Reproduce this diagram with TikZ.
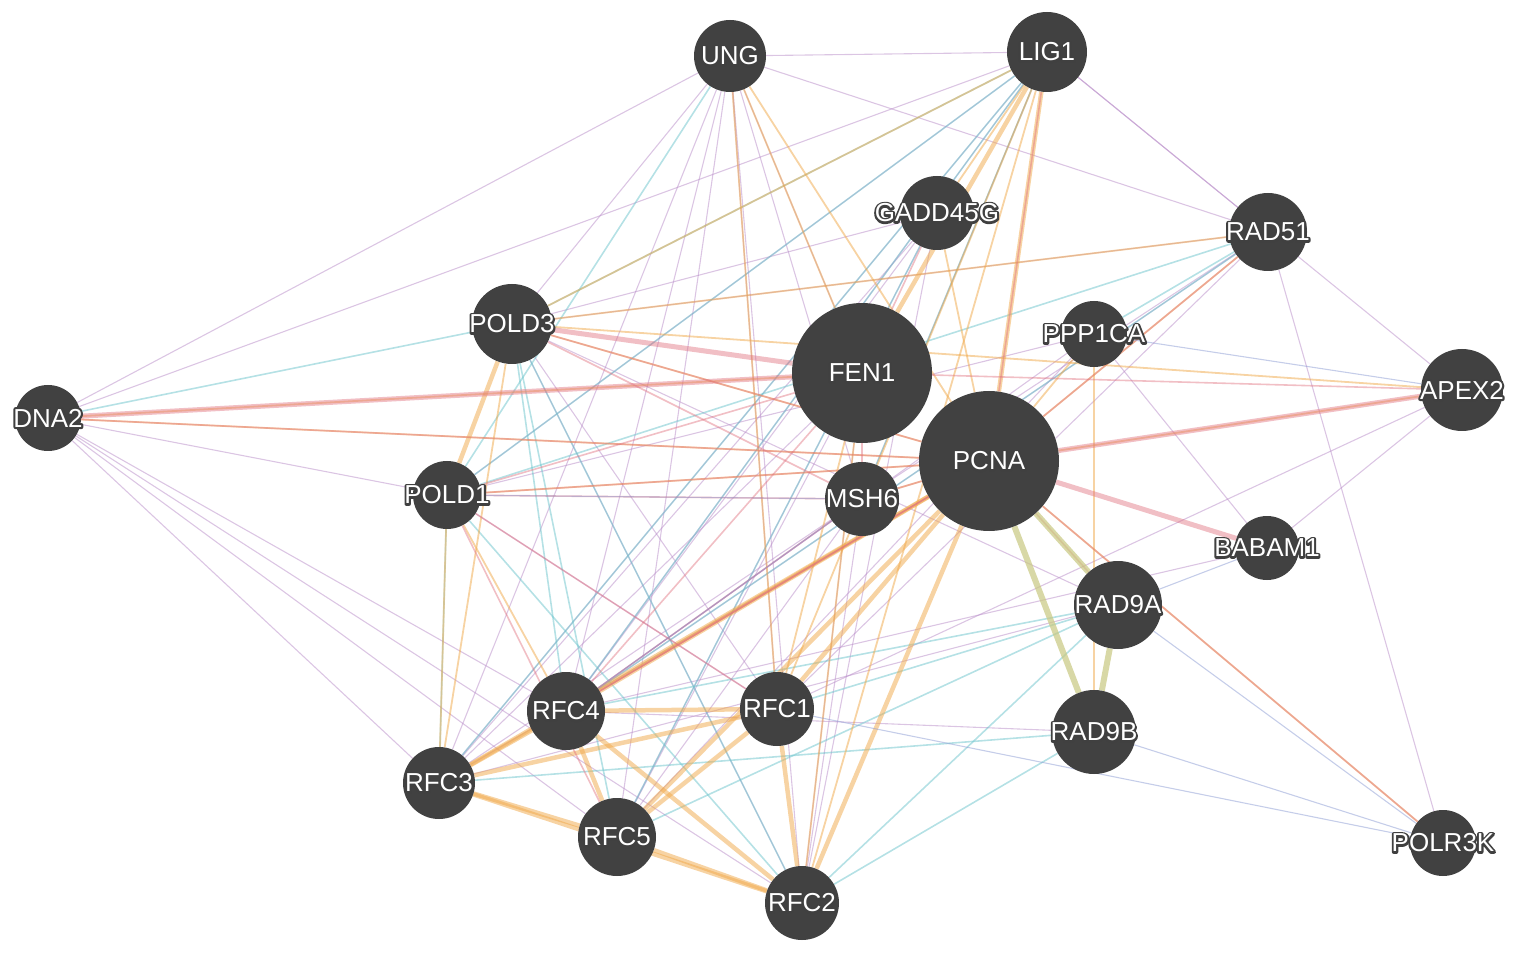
\documentclass[tikz,border=0pt]{standalone}
\usepackage{fontspec}
\setmainfont{Liberation Sans}
\usetikzlibrary{backgrounds}
\definecolor{nd}{HTML}{414141}
\definecolor{cpu}{HTML}{B88CC8}
\definecolor{ccy}{HTML}{6CC4CC}
\definecolor{cor}{HTML}{F0A848}
\definecolor{cpk}{HTML}{E0707E}
\definecolor{col}{HTML}{C8C880}
\definecolor{cbl}{HTML}{8C9CD4}
\newcommand\halotext[1]{\makebox[0pt][l]{\special{pdf:code q 1 Tr 4 w 1 j 0.25 0.25 0.25 RG}#1\special{pdf:code Q}}#1}
\tikzset{
 gene/.style 2 args={circle,fill=nd,inner sep=0pt,minimum size=#1,
   label={[font=\fontsize{26}{26}\selectfont,text=white,inner sep=0pt]center:\halotext{#2}}},
 pu/.style={draw=cpu,opacity=0.5,line width=1.1pt},
 cy/.style={draw=ccy,opacity=0.5,line width=1.6pt},
 orth/.style={draw=cor,opacity=0.5,line width=1.8pt},
 orthk/.style={draw=cor,opacity=0.5,line width=4.5pt},
 pk/.style={draw=cpk,opacity=0.45,line width=1.6pt},
 pkk/.style={draw=cpk,opacity=0.45,line width=5pt},
 olk/.style={draw=col,opacity=0.7,line width=6pt},
 bl/.style={draw=cbl,opacity=0.5,line width=1.1pt}
}
\begin{document}
\begin{tikzpicture}[x=1pt,y=-1pt]
\useasboundingbox (0,0) rectangle (1535,965);
\node[gene={72pt}{UNG}] (UNG) at (730,56) {};
\node[gene={80pt}{LIG1}] (LIG) at (1047,52) {};
\node[gene={74pt}{GADD45G}] (GAD) at (937,213) {};
\node[gene={78pt}{RAD51}] (R51) at (1268,232) {};
\node[gene={80pt}{POLD3}] (P3) at (512,324) {};
\node[gene={140pt}{FEN1}] (FEN) at (862,373) {};
\node[gene={66pt}{PPP1CA}] (PP) at (1094,334) {};
\node[gene={82pt}{APEX2}] (APX) at (1462,390) {};
\node[gene={66pt}{DNA2}] (DNA) at (48,418) {};
\node[gene={140pt}{PCNA}] (PC) at (989,461) {};
\node[gene={68pt}{POLD1}] (P1) at (447,495) {};
\node[gene={74pt}{MSH6}] (MSH) at (862,499) {};
\node[gene={64pt}{BABAM1}] (BAB) at (1267,548) {};
\node[gene={88pt}{RAD9A}] (R9A) at (1118,605) {};
\node[gene={78pt}{RFC4}] (C4) at (566,711) {};
\node[gene={74pt}{RFC1}] (C1) at (777,709) {};
\node[gene={84pt}{RAD9B}] (R9B) at (1094,732) {};
\node[gene={72pt}{RFC3}] (C3) at (439,783) {};
\node[gene={78pt}{RFC5}] (C5) at (617,837) {};
\node[gene={74pt}{RFC2}] (C2) at (802,903) {};
\node[gene={66pt}{POLR3K}] (PK) at (1443,843) {};
\begin{pgfonlayer}{background}
\foreach \a/\b in {DNA/UNG,DNA/LIG,DNA/C3,DNA/C4,DNA/C2,DNA/P1,DNA/C5,UNG/LIG,UNG/R51,LIG/R51,LIG/APX,UNG/C4,UNG/C1,UNG/MSH,UNG/P3,UNG/C3,UNG/C2,UNG/C5,LIG/C4,LIG/C3,GAD/C4,GAD/C3,GAD/C5,MSH/C3,MSH/C4,MSH/C5,MSH/C2,R51/C4,R51/PK,R51/P3,PP/BAB,PP/C4,PP/P1,P3/C2,P3/R9A,P1/C1,FEN/C3,FEN/C5,FEN/C2,PC/C3,LIG/MSH,GAD/C2,R51/MSH,APX/BAB,APX/C1,BAB/C4,R9A/C3,P3/C1,C4/R9B,LIG/P1,UNG/FEN,R51/C1,GAD/P3,PP/C5}
  \draw[pu] (\a) -- (\b);
\foreach \a/\b in {LIG/P3,LIG/P1,LIG/C4,LIG/C3,DNA/P3,P3/C5,P3/C4,P1/C3,P1/C2,C2/R9B,C5/R9A,R51/C4,R51/P1,GAD/C5,C1/R9A,C3/R9B,C2/R9A,LIG/MSH,P3/C2,C4/R9A,R51/PP,UNG/P1}
  \draw[cy] (\a) -- (\b);
\foreach \a/\b in {C4/C1,C4/C3,C4/C5,C4/C2,C1/C3,C1/C5,C1/C2,C3/C5,C3/C2,C5/C2,P3/P1,LIG/PC,LIG/FEN,PC/C4,PC/C1,PC/C2,PC/C5,PC/C3}
  \draw[orthk] (\a) -- (\b);
\foreach \a/\b in {UNG/PC,UNG/FEN,LIG/P3,LIG/GAD,GAD/PC,PC/PK,PC/R51,PC/APX,P3/PC,P1/PC,P1/C4,P1/C3,P3/C3,DNA/PC,DNA/FEN,R51/P3,UNG/C1,LIG/C1,FEN/C1,FEN/C2,PP/R9B,PC/PP,APX/P3,MSH/PC,LIG/C2}
  \draw[orth] (\a) -- (\b);
\foreach \a/\b in {PC/BAB,P3/FEN,DNA/FEN,APX/PC}
  \draw[pkk] (\a) -- (\b);
\foreach \a/\b in {P3/PC,P1/PC,P1/FEN,DNA/PC,P3/MSH,P1/MSH,FEN/MSH,PC/MSH,FEN/C4,PC/C4,P1/C1,MSH/C4,PC/R9A,APX/FEN,PC/PK,R51/PC,LIG/PC,GAD/FEN,P1/C5,C4/PC}
  \draw[pk] (\a) -- (\b);
\foreach \a/\b in {PC/R9B,R9A/R9B,PC/R9A}
  \draw[olk] (\a) -- (\b);
\foreach \a/\b in {R9B/PK,C1/PK,R9A/PK,P1/MSH,C4/MSH,BAB/R9A,APX/PP}
  \draw[bl] (\a) -- (\b);
\end{pgfonlayer}
\end{tikzpicture}
\end{document}
